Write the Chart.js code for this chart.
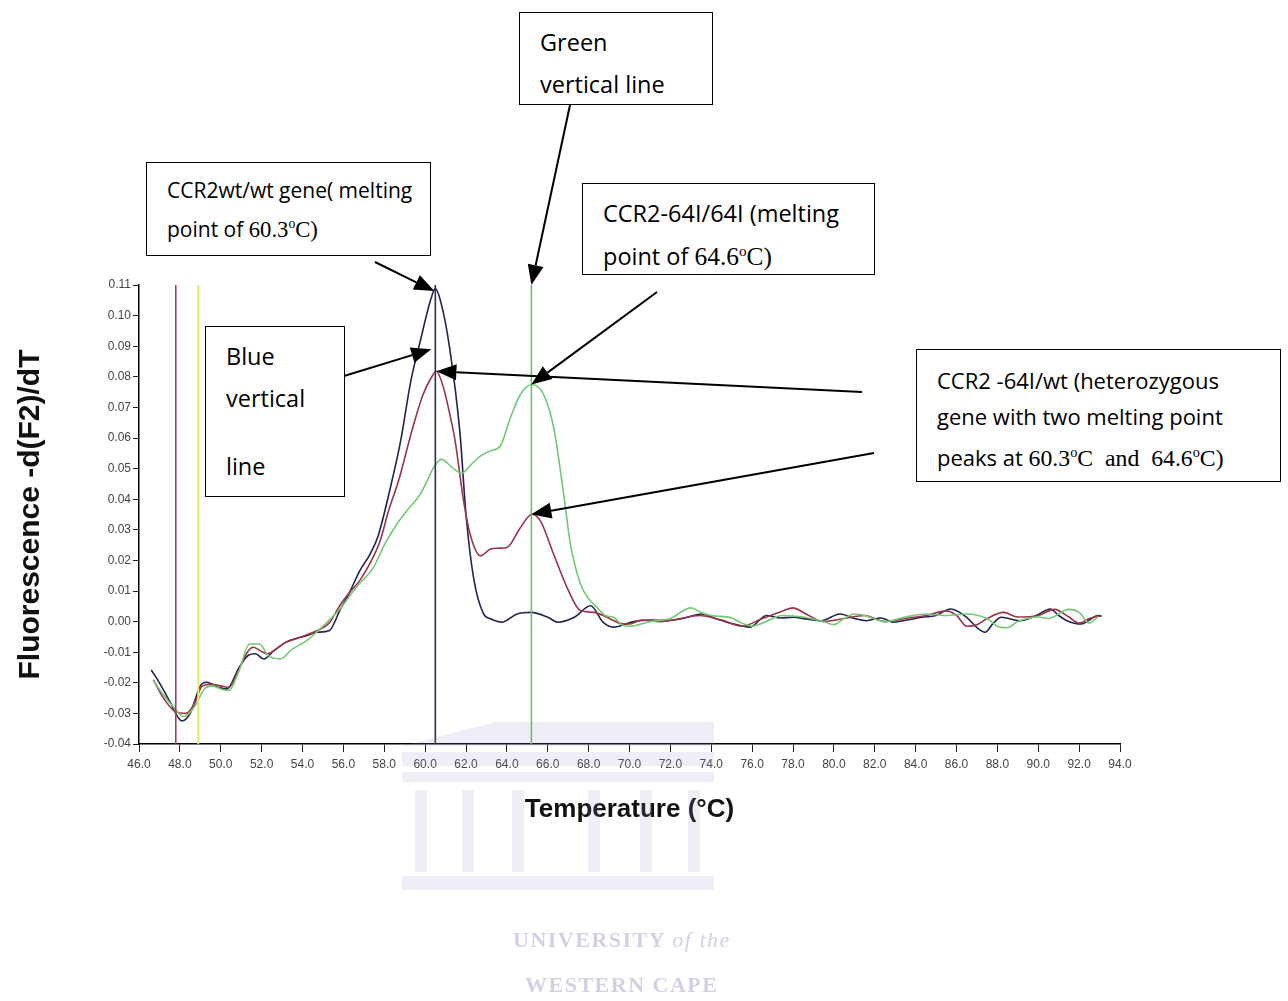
<!DOCTYPE html>
<html lang="en">
  <head>
    <meta charset="utf-8" />
    <title>CCR2 melting curve</title>
    <script src="https://cdn.jsdelivr.net/npm/chart.js@4.4.0/dist/chart.umd.min.js"></script>
    <style>
      body {
        margin: 0;
        background: #fff;
      }
      #page {
        position: relative;
        width: 1288px;
        height: 1001px;
        overflow: hidden;
      }
      #chart {
        position: absolute;
        left: 0;
        top: 0;
        z-index: 1;
      }
      .wm {
        position: absolute;
        background: rgba(150, 150, 200, 0.16);
        z-index: 2;
      }
      .wmtext {
        position: absolute;
        z-index: 2;
        font-family: "Liberation Serif", serif;
        font-weight: bold;
        color: rgba(140, 140, 190, 0.4);
        font-size: 22px;
        letter-spacing: 1.5px;
        white-space: nowrap;
      }
      .box {
        position: absolute;
        z-index: 3;
        border: 1.5px solid #000;
        background: #fff;
        font-family: "Open Sans", sans-serif;
        font-size: 23.5px;
        color: #000;
        box-sizing: border-box;
        padding: 14px 20px;
        line-height: 42px;
        white-space: nowrap;
      }
      .tnr {
        font-family: "Liberation Serif", serif;
        font-size: 1.08em;
      }
      .tnr sup {
        font-size: 0.6em;
      }
    </style>
  </head>
  <body>
    <div id="page">
      <!-- watermark: building -->
      <div class="wm" style="left:402px;top:722px;width:312px;height:24px;clip-path:polygon(0 100%,30% 0,100% 0,100% 100%)"></div>
      <div class="wm" style="left:402px;top:752px;width:312px;height:14px"></div>
      <div class="wm" style="left:402px;top:772px;width:312px;height:10px"></div>
      <div class="wm" style="left:415px;top:790px;width:12px;height:82px"></div>
      <div class="wm" style="left:462px;top:790px;width:12px;height:82px"></div>
      <div class="wm" style="left:512px;top:790px;width:12px;height:82px"></div>
      <div class="wm" style="left:588px;top:790px;width:12px;height:82px"></div>
      <div class="wm" style="left:640px;top:790px;width:12px;height:82px"></div>
      <div class="wm" style="left:688px;top:790px;width:12px;height:82px"></div>
      <div class="wm" style="left:402px;top:876px;width:312px;height:14px"></div>
      <div class="wmtext" style="left:513px;top:927px">UNIVERSITY <i style="font-weight:normal">of the</i></div>
      <div class="wmtext" style="left:525px;top:972px">WESTERN CAPE</div>

      <canvas id="chart" width="1288" height="1001"></canvas>

      <div class="box" style="left:519px;top:12px;width:194px;height:93px;padding-top:8px">
        Green<br />vertical line
      </div>
      <div class="box" style="left:146px;top:162px;width:285px;height:94px;font-size:21px;line-height:34px;padding-top:10px">
        CCR2wt/wt gene( melting<br />point of <span class="tnr">60.3<sup>o</sup>C)</span>
      </div>
      <div class="box" style="left:582px;top:183px;width:293px;height:92px;line-height:38px;padding-top:10px">
        CCR2-64I/64I (melting<br />point of <span class="tnr">64.6<sup>o</sup>C)</span>
      </div>
      <div class="box" style="left:205px;top:326px;width:140px;height:171px;padding-top:8px">
        Blue<br />vertical<br /><span style="display:inline-block;margin-top:26px">line</span>
      </div>
      <div class="box" style="left:916px;top:349px;width:365px;height:133px;font-size:22px;line-height:36px;padding-top:12px">
        CCR2 -64I/wt (heterozygous<br />gene with two melting point<br />peaks at <span class="tnr">60.3<sup>o</sup>C&nbsp; and&nbsp; 64.6<sup>o</sup>C)</span>
      </div>
    </div>

    <script>
      // ---------- data ----------
      // CCR2 wt/wt (dark navy)
      const wtTemp = [46.6, 47.0, 47.5, 48.1, 48.5, 49.0, 49.3, 49.8, 50.3, 50.9, 51.35, 51.7, 52.1, 52.6, 53.2, 53.7, 54.2, 54.7, 55.3, 55.85, 56.3, 56.8, 57.3, 57.7, 58.3, 58.8, 59.3, 59.8, 60.25, 60.5, 60.8, 61.2, 61.7, 62.0, 62.37, 62.86, 63.2, 63.75, 64.5, 65.2, 66.0, 66.5, 67.3, 68.1, 68.7, 69.2, 70.2, 71.0, 71.8, 72.6, 73.5, 74.3, 75.1, 75.9, 76.7, 77.4, 78.0, 78.7, 79.4, 80.3, 81.0, 81.6, 82.3, 82.9, 83.6, 84.3, 85.0, 85.7, 86.5, 87.0, 87.4, 87.8, 88.2, 89.1, 89.9, 90.6, 91.0, 91.4, 92.1, 92.5, 92.9, 93.1];
      const wtVal = [-0.0158, -0.02, -0.026, -0.0325, -0.03, -0.021, -0.0198, -0.0212, -0.022, -0.015, -0.011, -0.0105, -0.0122, -0.0095, -0.0067, -0.0055, -0.0046, -0.0035, -0.003, 0.004, 0.0095, 0.0166, 0.022, 0.028, 0.0438, 0.059, 0.0786, 0.0927, 0.1047, 0.1088, 0.1036, 0.0894, 0.062, 0.035, 0.0144, 0.0025, 0.0009, -0.0002, 0.0025, 0.003, 0.0014, -0.0002, 0.0014, 0.0052, -0.0002, -0.0018, 0.0, 0.0005, 0.0003, 0.001, 0.0025, 0.0008, -0.0008, -0.0018, 0.002, 0.0012, 0.0014, 0.0008, 0.0003, 0.0025, 0.001, 0.0003, 0.0012, -0.0002, 0.0005, 0.0014, 0.002, 0.0041, 0.0014, -0.002, -0.0035, -0.0005, 0.0014, 0.0003, 0.002, 0.0041, 0.002, 0.0003, -0.0008, 0.0005, 0.002, 0.0018];

      // CCR2 -64I/wt heterozygous (maroon)
      const hetTemp = [46.7, 47.2, 47.7, 48.3, 48.7, 49.1, 49.5, 50.0, 50.4, 50.9, 51.3, 51.6, 52.0, 52.3, 52.8, 53.2, 53.9, 54.7, 55.3, 55.85, 56.3, 56.8, 57.3, 57.8, 58.2, 58.7, 59.35, 59.9, 60.3, 60.55, 60.9, 61.2, 61.47, 61.88, 62.2, 62.7, 63.2, 63.6, 64.0, 64.66, 65.23, 65.64, 66.29, 66.94, 67.6, 68.25, 68.9, 69.5, 70.0, 70.6, 71.5, 72.5, 73.4, 74.5, 75.5, 76.5, 77.5, 78.0, 78.5, 79.5, 80.5, 81.5, 82.5, 83.5, 84.5, 85.5, 86.0, 86.5, 87.0, 87.5, 88.3, 89.0, 90.0, 90.8, 91.5, 92.0, 92.5, 93.0];
      const hetVal = [-0.019, -0.025, -0.029, -0.03, -0.027, -0.021, -0.0205, -0.021, -0.0215, -0.0155, -0.01, -0.0084, -0.0098, -0.0105, -0.0085, -0.0067, -0.0051, -0.003, -0.0005, 0.0055, 0.0095, 0.0134, 0.019, 0.0264, 0.036, 0.046, 0.0623, 0.0742, 0.0797, 0.0818, 0.0764, 0.068, 0.059, 0.0395, 0.0286, 0.0215, 0.0237, 0.024, 0.0242, 0.0307, 0.0351, 0.0329, 0.022, 0.0112, 0.0036, 0.003, 0.0014, -0.0005, -0.0008, 0.0005, 0.0, 0.001, 0.002, 0.0005, -0.0015, 0.001, 0.0035, 0.0045, 0.003, 0.0, 0.001, 0.002, 0.0, 0.001, 0.002, 0.0035, 0.002, -0.0015, -0.001, 0.001, 0.003, 0.0015, 0.002, 0.004, 0.0015, -0.0005, 0.001, 0.002];

      // CCR2-64I/64I (green)
      const mutTemp = [46.7, 47.2, 47.7, 48.2, 48.7, 49.2, 49.6, 50.0, 50.4, 50.9, 51.4, 51.9, 52.3, 52.9, 53.5, 54.2, 55.0, 55.84, 56.6, 57.47, 58.0, 58.62, 59.2, 59.76, 60.1, 60.41, 60.8, 61.3, 61.8, 62.2, 62.7, 63.19, 63.68, 64.17, 64.66, 65.23, 65.8, 66.29, 66.78, 67.11, 67.6, 68.0, 68.41, 68.8, 69.23, 69.6, 70.0, 71.0, 72.0, 73.0, 73.5, 74.0, 75.0, 75.5, 76.0, 76.5, 77.5, 78.5, 79.5, 80.0, 80.5, 81.0, 81.5, 82.5, 83.5, 84.5, 85.5, 86.5, 87.5, 88.0, 88.5, 89.0, 90.0, 90.5, 91.5, 92.0, 92.5, 92.9];
      const mutVal = [-0.0192, -0.024, -0.028, -0.031, -0.028, -0.022, -0.021, -0.022, -0.0225, -0.016, -0.0073, -0.0073, -0.011, -0.0122, -0.009, -0.0062, -0.0015, 0.0042, 0.011, 0.0177, 0.025, 0.0319, 0.037, 0.0416, 0.046, 0.0503, 0.053, 0.0505, 0.0485, 0.051, 0.0541, 0.0558, 0.0574, 0.0666, 0.0742, 0.0775, 0.0742, 0.0634, 0.0416, 0.0253, 0.0123, 0.0075, 0.0047, 0.002, 0.0014, -0.001, -0.0015, 0.0, 0.001, 0.0045, 0.003, 0.002, 0.0012, -0.0005, -0.0015, -0.0005, 0.002, 0.0015, 0.0, -0.001, 0.001, 0.0025, 0.002, 0.0, 0.0015, 0.0025, 0.002, 0.0025, 0.001, -0.0015, -0.002, 0.0, 0.0015, 0.001, 0.004, 0.003, -0.0005, 0.0015];

      // vertical marker lines (temperature) and their colours
      const markerTemp = [47.8, 48.9, 60.5, 65.2];
      const markerColor = ["#a8424f", "#e6e86a", "#2a2b5e", "#6cc06c"];

      // axis ranges / ticks
      const yMin = -0.04, yMax = 0.11, yStep = 0.01;
      const xMin = 46, xMax = 94, xStep = 2;

      // arrows: tail in page pixels (box edge), head on the data (temp, value)
      const arrowTail = [[570, 105], [375, 262], [657, 292], [344, 376], [862, 392], [874, 453]];
      const arrowHeadTemp = [65.2, 60.45, 65.2, 60.3, 60.55, 65.2];
      const arrowHeadVal = [0.11, 0.108, 0.0775, 0.089, 0.0818, 0.0351];

      // ---------- helpers ----------
      const pts = (xs, ys) => xs.map((x, i) => ({ x, y: ys[i] }));

      const curve = (label, xs, ys, color) => ({
        label,
        data: pts(xs, ys),
        borderColor: color,
        borderWidth: 1.6,
        pointRadius: 0,
        tension: 0.4,
        cubicInterpolationMode: "monotone",
      });

      const markers = markerTemp.map((t, i) => ({
        label: "marker" + i,
        data: [{ x: t, y: yMin }, { x: t, y: yMax }],
        borderColor: markerColor[i],
        borderWidth: i === 1 ? 2 : 1.6,
        pointRadius: 0,
      }));

      const arrowPlugin = {
        id: "arrows",
        afterDraw(chart) {
          const { ctx, scales } = chart;
          ctx.save();
          ctx.strokeStyle = "#000";
          ctx.fillStyle = "#000";
          ctx.lineWidth = 2;
          arrowTail.forEach(([x0, y0], i) => {
            const x1 = scales.x.getPixelForValue(arrowHeadTemp[i]);
            const y1 = scales.y.getPixelForValue(arrowHeadVal[i]);
            const a = Math.atan2(y1 - y0, x1 - x0);
            const len = 20, wid = 8;
            const bx = x1 - len * Math.cos(a), by = y1 - len * Math.sin(a);
            ctx.beginPath();
            ctx.moveTo(x0, y0);
            ctx.lineTo(bx, by);
            ctx.stroke();
            ctx.beginPath();
            ctx.moveTo(x1, y1);
            ctx.lineTo(bx + wid * Math.sin(a), by - wid * Math.cos(a));
            ctx.lineTo(bx - wid * Math.sin(a), by + wid * Math.cos(a));
            ctx.closePath();
            ctx.fill();
          });
          ctx.restore();
        },
      };

      Chart.defaults.font.family = "'Liberation Sans', Arial, sans-serif";

      new Chart(document.getElementById("chart"), {
        type: "line",
        data: {
          datasets: [
            ...markers,
            curve("CCR2 -64I/64I", mutTemp, mutVal, "#74c874"),
            curve("CCR2 -64I/wt", hetTemp, hetVal, "#9a3448"),
            curve("CCR2 wt/wt", wtTemp, wtVal, "#22244f"),
          ],
        },
        options: {
          responsive: false,
          animation: false,
          layout: { padding: { left: 0, top: 285, right: 168, bottom: 167 } },
          plugins: { legend: { display: false }, tooltip: { enabled: false } },
          scales: {
            x: {
              type: "linear",
              min: xMin,
              max: xMax,
              afterFit: (s) => { s.height = 90; },
              ticks: {
                stepSize: xStep,
                maxRotation: 0,
                autoSkip: false,
                padding: 5,
                color: "#444",
                font: { size: 12 },
                callback: (v) => v.toFixed(1),
              },
              grid: { drawOnChartArea: false, drawTicks: true, tickLength: 8, color: "#222" },
              border: { color: "#000", width: 1.5 },
              title: {
                display: true,
                text: "Temperature (\u00b0C)",
                color: "#111",
                font: { size: 26, weight: "bold" },
                padding: { top: 0, bottom: 9 },
              },
            },
            y: {
              min: yMin,
              max: yMax,
              afterFit: (s) => { s.width = 139; },
              ticks: {
                stepSize: yStep,
                padding: 2,
                color: "#444",
                font: { size: 12 },
                callback: (v) => v.toFixed(2),
              },
              grid: { drawOnChartArea: false, drawTicks: true, tickLength: 6, color: "#222" },
              border: { color: "#000", width: 1.5 },
              title: {
                display: true,
                text: "Fluorescence -d(F2)/dT",
                color: "#111",
                font: { size: 30, weight: "bold" },
                padding: { top: 13, bottom: 0 },
              },
            },
          },
        },
        plugins: [arrowPlugin],
      });
    </script>
  </body>
</html>
